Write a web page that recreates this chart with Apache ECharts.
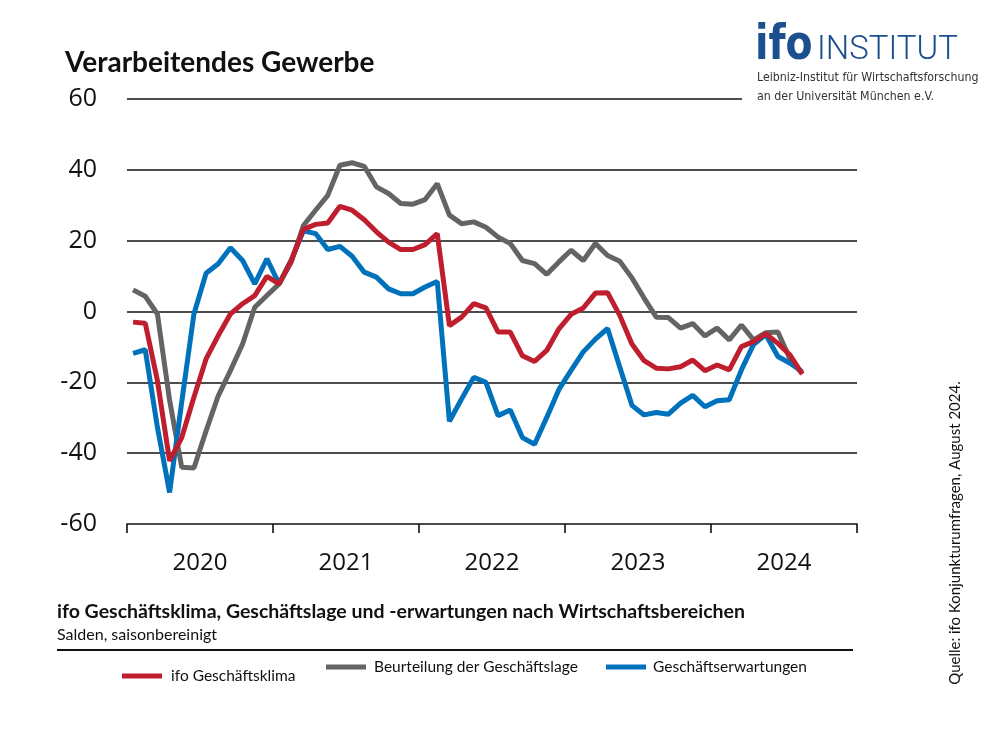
<!DOCTYPE html>
<html>
<head>
<meta charset="utf-8">
<script src="https://cdn.jsdelivr.net/npm/echarts@6/dist/echarts.min.js"></script>
<style>
html,body{margin:0;padding:0;background:#fff;}
#chart{width:1000px;height:750px;}
</style>
</head>
<body>
<div id="chart"></div>
<script>
// ---- data (monthly, Jan 2020 – Aug 2024) ----
var years = ['2020', '2021', '2022', '2023', '2024'];
var seriesNames = ['ifo Geschäftsklima', 'Beurteilung der Geschäftslage', 'Geschäftserwartungen'];
var klima = [-3.0, -3.3, -19.5, -42.2, -35.6, -24.2, -13.4, -6.8, -0.7, 2.2, 4.5, 9.9,
             7.8, 14.4, 23.2, 24.6, 25.0, 29.7, 28.6, 25.9, 22.5, 19.6, 17.5, 17.5,
             18.9, 22.0, -4.0, -1.6, 2.2, 1.0, -5.8, -5.8, -12.5, -14.1, -11.0, -4.9,
             -0.8, 1.0, 5.2, 5.3, -1.1, -9.2, -13.9, -16.0, -16.2, -15.6, -13.7, -16.7,
             -15.1, -16.5, -9.9, -8.5, -6.3, -9.0, -12.3, -17.7];
var lage = [6.1, 4.3, -0.7, -25.0, -44.0, -44.2, -33.7, -23.8, -16.7, -9.2, 1.2, 4.5,
            7.8, 14.0, 24.3, 28.6, 32.8, 41.3, 42.0, 41.0, 35.2, 33.3, 30.5, 30.3,
            31.6, 36.1, 27.2, 24.8, 25.3, 23.8, 21.0, 19.2, 14.4, 13.5, 10.5, 14.0,
            17.3, 14.4, 19.2, 15.8, 14.2, 9.5, 3.8, -1.6, -1.7, -4.7, -3.4, -6.9,
            -4.7, -8.0, -3.8, -8.0, -6.0, -5.8, -13.5, -17.5];
var erwartungen = [-11.8, -10.8, -32.7, -51.1, -25.5, -0.7, 10.8, 13.5, 18.0, 14.4, 7.8, 14.9,
                   7.8, 14.5, 22.8, 22.0, 17.5, 18.4, 15.6, 11.1, 9.7, 6.4, 5.0, 5.0,
                   6.9, 8.5, -31.0, -24.7, -18.6, -20.0, -29.4, -27.8, -35.6, -37.5, -29.9, -22.0,
                   -16.6, -11.4, -7.8, -4.8, -15.7, -26.5, -29.2, -28.5, -29.0, -25.9, -23.7, -26.9,
                   -25.2, -24.9, -16.5, -9.3, -6.5, -12.7, -14.6, -17.0];
var yTicks = [-60, -40, -20, 0, 20, 40, 60];

// month categories derived from the years
var months = [];
years.forEach(function (y) {
  for (var m = 1; m <= 12; m++) months.push(y + '-' + (m < 10 ? '0' + m : m));
});

var RED = '#BE1E2D', GRAY = '#646464', BLUE = '#0071BB';
var NARROW = "'Liberation Sans Narrow', 'DejaVu Sans Condensed', Roboto, sans-serif";

var chart = echarts.init(document.getElementById('chart'), null, {renderer: 'canvas'});

function legendFor(name, left, top, textPad) {
  return {
    data: [name],
    left: left,
    top: top,
    icon: 'rect',
    itemWidth: 40,
    itemHeight: 5,
    padding: 0,
    textStyle: {fontFamily: 'Lato', fontSize: 15.5, color: '#111', padding: [0, 0, 0, textPad]},
    selectedMode: false
  };
}

var option = {
  backgroundColor: '#fff',
  animation: false,
  grid: {left: 127, right: 143, top: 99, bottom: 226, containLabel: false},
  xAxis: [
    {type: 'category', data: months, boundaryGap: true, show: false},
    {
      type: 'category', data: years, boundaryGap: true, position: 'bottom',
      axisLine: {show: true, lineStyle: {color: '#111', width: 1.6}},
      axisTick: {show: true, length: 9, lineStyle: {color: '#111', width: 1.6}},
      axisLabel: {fontFamily: 'Open Sans', fontSize: 24, color: '#111', margin: 27},
      splitLine: {show: false}
    }
  ],
  yAxis: {
    type: 'value', min: yTicks[0], max: yTicks[yTicks.length - 1], interval: 20,
    axisLine: {show: false}, axisTick: {show: false},
    axisLabel: {fontFamily: 'Open Sans', fontSize: 25, color: '#111', margin: 30},
    splitLine: {show: true, showMinLine: false, showMaxLine: false, lineStyle: {color: '#111', width: 1.6}}
  },
  legend: [
    legendFor(seriesNames[0], 122, 668, 4),
    legendFor(seriesNames[1], 326, 659, 3),
    legendFor(seriesNames[2], 606, 659, 2)
  ],
  series: [
    {name: seriesNames[0], type: 'line', data: klima, xAxisIndex: 0, z: 5,
     symbol: 'none', lineStyle: {color: RED, width: 5}, itemStyle: {color: RED}},
    {name: seriesNames[1], type: 'line', data: lage, xAxisIndex: 0, z: 3,
     symbol: 'none', lineStyle: {color: GRAY, width: 5}, itemStyle: {color: GRAY}},
    {name: seriesNames[2], type: 'line', data: erwartungen, xAxisIndex: 0, z: 4,
     symbol: 'none', lineStyle: {color: BLUE, width: 5}, itemStyle: {color: BLUE}}
  ]
};
chart.setOption(option);

var yTop = chart.convertToPixel({yAxisIndex: 0}, yTicks[yTicks.length - 1]);

chart.setOption({
  graphic: [
    {type: 'line', shape: {x1: 127, y1: yTop, x2: 742, y2: yTop}, style: {stroke: '#111', lineWidth: 1.6}},
    {type: 'text', left: 65, top: 49, style: {text: 'Verarbeitendes Gewerbe', fontFamily: 'Lato', fontWeight: 'bold', fontSize: 28, fill: '#111'}},
    // logo
    {type: 'text', x: 755, y: 71, scaleX: 0.82, style: {text: 'ifo', fontFamily: 'DejaVu Sans', fontWeight: 'bold', fontSize: 48, fill: '#1B4F8E', verticalAlign: 'bottom'}},
    {type: 'text', x: 817, y: 67, style: {text: 'INSTITUT', fontFamily: 'Roboto', fontWeight: 300, fontSize: 33, fill: '#1B4F8E', verticalAlign: 'bottom'}},
    {type: 'text', x: 757, y: 78, style: {text: 'Leibniz-Institut für Wirtschaftsforschung', fontFamily: NARROW, fontSize: 12.3, fill: '#333', verticalAlign: 'middle'}},
    {type: 'text', x: 757, y: 97, style: {text: 'an der Universität München e.V.', fontFamily: NARROW, fontSize: 12.3, fill: '#333', verticalAlign: 'middle'}},
    // footer
    {type: 'text', x: 57, y: 612, style: {text: 'ifo Geschäftsklima, Geschäftslage und -erwartungen nach Wirtschaftsbereichen', fontFamily: 'Lato', fontWeight: 'bold', fontSize: 19.5, fill: '#111', verticalAlign: 'middle'}},
    {type: 'text', x: 57, y: 635, style: {text: 'Salden, saisonbereinigt', fontFamily: 'Lato', fontSize: 16, fill: '#111', verticalAlign: 'middle'}},
    {type: 'line', shape: {x1: 57, y1: 650, x2: 853, y2: 650}, style: {stroke: '#111', lineWidth: 2}},
    // source
    {type: 'text', x: 955, y: 533, rotation: Math.PI / 2, style: {text: 'Quelle: ifo Konjunkturumfragen, August 2024.', fontFamily: 'Lato', fontSize: 15, fill: '#111', align: 'center', verticalAlign: 'middle'}}
  ]
});
</script>
</body>
</html>
